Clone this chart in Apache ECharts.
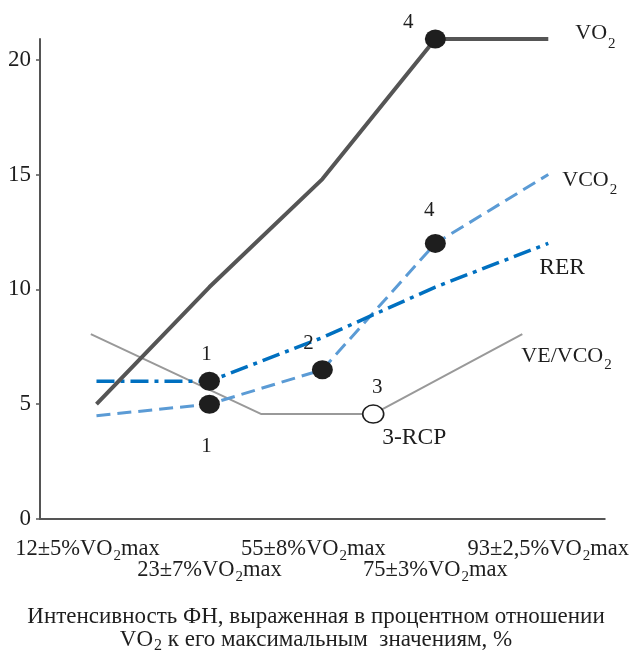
<!DOCTYPE html>
<html><head><meta charset="utf-8">
<script src="https://cdn.jsdelivr.net/npm/echarts@6/dist/echarts.min.js"></script>
<style>html,body{margin:0;padding:0;background:#fff}#c{width:632px;height:651px}</style>
</head><body><div id="c"></div>
<script>
// ---- data ----
const categories = ['12±5%VO2max', '23±7%VO2max', '55±8%VO2max', '75±3%VO2max', '93±2,5%VO2max'];
const vo2 = [5.0, 10.1, 14.8, 20.9, 20.9];
const vco2 = [4.5, 5.0, 6.5, 12.0, 15.0];
const rer = [6.0, 6.0, 7.9, 10.1, 12.0];
const veX = [0.45, 1.96, 2.95, 4.27];
const veVco2 = [8.05, 4.57, 4.57, 8.05];
const yMin = 0, yMax = 20.9, yInterval = 5;
const seriesNames = ['VO2', 'VCO2', 'RER', 'VE/VCO2'];
const titleLine1 = 'Интенсивность ФН, выраженная в процентном отношении';
const titleLine2 = ['VO', '2', ' к его максимальным  значениям, %'];

// ---- styles ----
const FONT = 'Liberation Serif';
const TXT = '#1e1e1e';
function sub(str, key) { // turn "VO2" into rich text with subscript
  return str.split('VO2').map(p => p ? '{' + key + '|' + p + '}' : '').join('{' + key + '|VO}{' + key + 's|2}');
}
function rich(key, size, lh, d) {
  const o = {};
  o[key] = {fontFamily: FONT, fontSize: size, fontWeight: 'normal', color: TXT, lineHeight: lh, verticalAlign: 'top'};
  o[key + 's'] = {fontFamily: FONT, fontSize: Math.round(size * 0.68), fontWeight: 'normal', color: TXT, lineHeight: 15,
    verticalAlign: 'top', padding: [lh / 2 + d - 7.5, 0, 0, 1]};
  return o;
}
const axisRich = Object.assign({}, rich('a', 22.5, 24, 6), {
  e: {fontSize: 10, lineHeight: 21},
  p: {fontSize: 10, width: 18, lineHeight: 24, verticalAlign: 'top'}
});
const labelShiftLeft = [true, false, true, false, false]; // visual nudge of some labels

const numLabel = (text, pos, dist, dx, dy, fs) => ({show: true, formatter: text, position: pos, distance: dist,
  offset: [dx, dy || 0], fontFamily: FONT, fontSize: fs || 21, color: TXT, opacity: 1});

const markers = [
  {value: [1, rer[1]], label: numLabel('1', 'top', 7, -3)},
  {value: [1, vco2[1]], label: numLabel('1', 'bottom', 22, -3)},
  {value: [2, vco2[2]], label: numLabel('2', 'top', 6, -14)},
  {value: [3, vco2[3]], label: numLabel('4', 'top', 13, -6)},
  {value: [3, vo2[3]], label: numLabel('4', 'top', 0, -27, 3)}
];

const option = {
  animation: false,
  backgroundColor: '#fff',
  grid: {left: 40, right: 27, top: 39, bottom: 132},
  title: {
    text: '{t|' + titleLine1 + '}\n{t|' + titleLine2[0] + '}{ts|' + titleLine2[1] + '}{t|' + titleLine2[2] + '}',
    left: 'center', top: 600,
    textStyle: {fontWeight: 'normal', rich: rich('t', 23, 23, 6)}
  },
  xAxis: [{
    type: 'category', data: categories, boundaryGap: true,
    axisLine: {lineStyle: {color: '#555', width: 2}},
    axisTick: {length: 4, lineStyle: {color: '#555', width: 1.5}},
    axisLabel: {
      interval: 0, margin: 19,
      formatter: (v, i) => (i % 2 ? '{e| }\n' : '') + sub(v, 'a') + (labelShiftLeft[i] ? '{p| }' : ''),
      rich: axisRich
    },
    splitLine: {show: false}
  }, {
    type: 'value', min: 0, max: categories.length, show: false
  }],
  yAxis: {
    type: 'value', min: yMin, max: yMax, interval: yInterval,
    axisLine: {show: true, lineStyle: {color: '#555', width: 2}},
    axisTick: {show: true, length: 4, lineStyle: {color: '#555', width: 1.5}},
    axisLabel: {showMaxLabel: false, margin: 9, fontFamily: FONT, fontSize: 23, color: TXT},
    splitLine: {show: false}
  },
  series: [
    {
      name: seriesNames[0], type: 'line', data: vo2, symbol: 'none', z: 3,
      lineStyle: {color: '#555', width: 4},
      endLabel: {show: true, position: 'right', distance: 0, offset: [27, -5],
        formatter: '{v|VO}{vs|2}', rich: rich('v', 22, 24, 10)}
    },
    {
      name: seriesNames[1], type: 'line', data: vco2, symbol: 'none', z: 2,
      lineStyle: {color: '#5b9bd5', width: 3, type: [14, 7]},
      endLabel: {show: true, position: 'right', distance: 0, offset: [14, 7],
        formatter: '{v|VCO}{vs|2}', rich: rich('v', 22, 24, 9)}
    },
    {
      name: seriesNames[2], type: 'line', data: rer, symbol: 'none', z: 2,
      lineStyle: {color: '#0070c0', width: 3.5, type: [18, 6, 4, 6]},
      endLabel: {show: true, position: 'right', distance: 0, offset: [-9, 24],
        formatter: '{v|RER}', rich: rich('v', 23.5, 24, 8)}
    },
    {
      name: seriesNames[3], type: 'line', xAxisIndex: 1, z: 1,
      data: veX.map((x, i) => [x, veVco2[i]]), symbol: 'none',
      lineStyle: {color: '#999', width: 2},
      endLabel: {show: true, position: 'right', distance: 0, offset: [-1, 23],
        formatter: '{v|VE/VCO}{vs|2}', rich: rich('v', 22, 24, 8)}
    },
    {
      type: 'scatter', z: 5, symbol: 'circle', symbolSize: [21, 19],
      itemStyle: {color: '#1e1e1e', opacity: 1}, data: markers
    },
    {
      type: 'scatter', xAxisIndex: 1, z: 5, symbol: 'circle', symbolSize: [21, 18],
      itemStyle: {color: '#fff', borderColor: '#1e1e1e', borderWidth: 1.5, opacity: 1},
      data: [
        {value: [veX[2], veVco2[2]], label: numLabel('3', 'top', 9, 4, 3)},
        {value: [veX[2], veVco2[2]], symbolSize: 0, label: numLabel('3-RCP', 'bottom', 7, 41, 5, 23.5)}
      ]
    }
  ]
};
const chart = echarts.init(document.getElementById('c'), null, {renderer: 'canvas'});
chart.setOption(option);
</script>
</body></html>
